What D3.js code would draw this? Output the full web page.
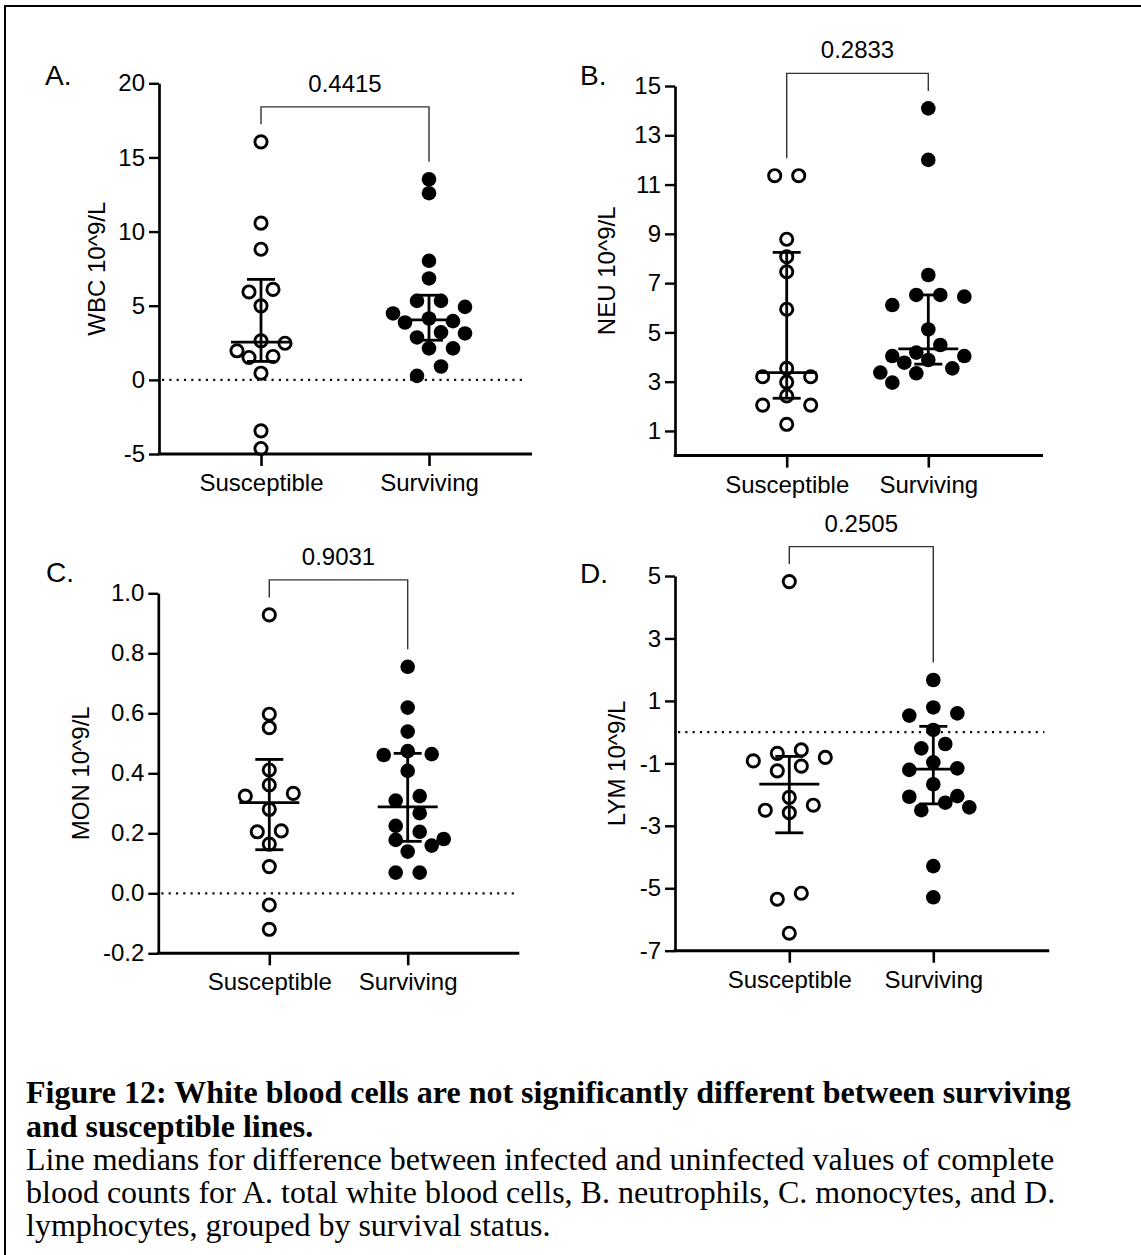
<!DOCTYPE html>
<html>
<head>
<meta charset="utf-8">
<script src="https://cdn.jsdelivr.net/npm/d3@7"></script>
<style>
  html, body { margin: 0; padding: 0; background: #fff; }
  svg { display: block; }
</style>
</head>
<body>
<svg id="fig" width="1141" height="1255"></svg>
<script>
// ---------------- DATA ----------------
const groups = ["Susceptible", "Surviving"];

// A. total white blood cells (WBC 10^9/L)
const wbcSusceptible = [16.05, 10.57, 8.81, 6.1, 5.93, 4.99, 2.63, 2.47, 1.96, 1.58, 1.51, 0.45, -3.44, -4.63];
const wbcSurviving   = [13.53, 12.59, 8.03, 6.84, 5.33, 5.33, 4.92, 4.48, 4.14, 3.96, 3.87, 3.2, 3.13, 2.86, 2.12, 2.12, 0.9, 0.27];

// B. neutrophils (NEU 10^9/L)
const neuSusceptible = [11.36, 11.36, 8.78, 8.07, 7.46, 5.94, 3.54, 3.2, 3.2, 2.98, 2.42, 2.05, 2.05, 1.27];
const neuSurviving   = [14.09, 12.0, 7.33, 6.52, 6.52, 6.45, 6.11, 5.12, 4.49, 4.18, 4.04, 4.04, 3.88, 3.77, 3.54, 3.37, 3.34, 2.96];

// C. monocytes (MON 10^9/L)
const monSusceptible = [0.928, 0.597, 0.552, 0.411, 0.361, 0.333, 0.324, 0.28, 0.208, 0.205, 0.164, 0.089, -0.039, -0.12];
const monSurviving   = [0.755, 0.619, 0.539, 0.474, 0.464, 0.461, 0.408, 0.324, 0.309, 0.267, 0.225, 0.205, 0.181, 0.178, 0.159, 0.139, 0.069, 0.069];

// D. lymphocytes (LYM 10^9/L)
const lymSusceptible = [4.82, -0.57, -0.68, -0.81, -0.92, -1.09, -1.24, -2.09, -2.34, -2.5, -2.58, -5.16, -5.35, -6.44];
const lymSurviving   = [1.67, 0.79, 0.6, 0.53, 0.07, -0.38, -0.52, -0.97, -1.16, -1.21, -1.67, -2.05, -2.07, -2.26, -2.41, -2.5, -4.29, -5.29];

// p values shown above brackets
const pValues = ["0.4415", "0.2833", "0.9031", "0.2505"];

// axis titles, tick values, panel letters
const panelLetters = ["A.", "B.", "C.", "D."];
const axisTitles = ["WBC 10^9/L", "NEU 10^9/L", "MON 10^9/L", "LYM 10^9/L"];
const ticksA = [-5, 0, 5, 10, 15, 20];
const ticksB = [1, 3, 5, 7, 9, 11, 13, 15];
const ticksC = [-0.2, 0.0, 0.2, 0.4, 0.6, 0.8, 1.0];
const ticksD = [-7, -5, -3, -1, 1, 3, 5];
const domainA = [-5, 20], domainB = [0, 15], domainC = [-0.2, 1.0], domainD = [-7, 5];

const captionBold = [
  "Figure 12: White blood cells are not significantly different between surviving",
  "and susceptible lines."
];
const captionText = [
  "Line medians for difference between infected and uninfected values of complete",
  "blood counts for A. total white blood cells, B. neutrophils, C. monocytes, and D.",
  "lymphocytes, grouped by survival status."
];

// ---------------- LAYOUT ----------------
const SANS = "'Liberation Sans', Arial, Helvetica, sans-serif";
const SERIF = "'Liberation Serif', 'Times New Roman', Times, serif";
const fmtInt = d => String(d);
const fmt1 = d => d.toFixed(1);

const panels = [
  { data: [wbcSusceptible, wbcSurviving], domain: domainA, ticks: ticksA, fmt: fmtInt,
    x0: 159, xEnd: 532, yTop: 83.3, yBot: 454, cats: [261, 429], titleOff: 54, letter: [45, 85] },
  { data: [neuSusceptible, neuSurviving], domain: domainB, ticks: ticksB, fmt: fmtInt,
    x0: 675, xEnd: 1043, yTop: 86, yBot: 455.6, cats: [786.7, 928.3], titleOff: 60, letter: [580, 85] },
  { data: [monSusceptible, monSurviving], domain: domainC, ticks: ticksC, fmt: fmt1,
    x0: 158.3, xEnd: 519.3, yTop: 593.3, yBot: 953.3, cats: [269.3, 407.7], titleOff: 69, letter: [46, 582] },
  { data: [lymSusceptible, lymSurviving], domain: domainD, ticks: ticksD, fmt: fmtInt,
    x0: 675, xEnd: 1049.3, yTop: 576, yBot: 950.7, cats: [789.3, 933.3], titleOff: 50, letter: [580, 583] }
];

const SLOT = 24;          // horizontal spacing between swarm columns
const ROW_DY = 13;        // points closer than this (px) in y share a row
const MIN_DIST = 13.5;    // symbol collision distance

// Prism-like quartiles ((n+1) method)
function quantile(asc, p) {
  const n = asc.length, h = (n + 1) * p, lo = Math.floor(h), f = h - lo;
  if (lo < 1) return asc[0];
  if (lo >= n) return asc[n - 1];
  return asc[lo - 1] + f * (asc[lo] - asc[lo - 1]);
}

// simple row-based beeswarm in pixel space, returns offsets in slot units
function swarm(values, y) {
  const pts = values.map((v, i) => ({ v, i, py: y(v) })).sort((a, b) => a.py - b.py);
  const rows = [];
  let cur = null;
  for (const p of pts) {
    if (cur && p.py - cur[0].py < ROW_DY) cur.push(p);
    else { cur = [p]; rows.push(cur); }
  }
  const placed = [];
  const shifts = [0, 0.5, -0.5, 1, -1, 1.5, -1.5, 2, -2];
  for (const row of rows) {
    const n = row.length;
    const base = [];
    if (n % 2 === 1) { base.push(0); for (let k = 1; base.length < n; k++) { base.push(k); if (base.length < n) base.push(-k); } }
    else { for (let k = 0.5; base.length < n; k++) { base.push(k); if (base.length < n) base.push(-k); } }
    let chosen = base;
    for (const s of shifts) {
      const offs = base.map(o => o + s);
      const ok = row.every((p, k) => placed.every(q => {
        const dx = (q.off - offs[k]) * SLOT, dy = q.py - p.py;
        return Math.hypot(dx, dy) >= MIN_DIST;
      }));
      if (ok) { chosen = offs; break; }
    }
    row.forEach((p, k) => { p.off = chosen[k]; placed.push(p); });
  }
  return pts;
}

const svg = d3.select("#fig");

// figure frame (top + left edges)
svg.append("path").attr("d", "M5,1255V6H1141")
  .attr("fill", "none").attr("stroke", "#000").attr("stroke-width", 2);

panels.forEach((P, pi) => {
  const g = svg.append("g");
  const y = d3.scaleLinear().domain(P.domain).range([P.yBot, P.yTop]);
  const x = d3.scalePoint().domain(groups).range(P.cats);
  const jitter = d3.scaleLinear().domain([-1, 1]).range([-SLOT, SLOT]);

  // dotted zero line
  if (P.domain[0] < 0 && P.domain[1] > 0) {
    g.append("line")
      .attr("x1", P.x0 + 3).attr("x2", P.xEnd - 5)
      .attr("y1", y(0)).attr("y2", y(0))
      .attr("stroke", "#111").attr("stroke-width", 2.2)
      .attr("stroke-dasharray", "2.2 5.1");
  }

  // y axis
  const ya = g.append("g").attr("transform", `translate(${P.x0},0)`)
    .call(d3.axisLeft(y).tickValues(P.ticks).tickFormat(P.fmt)
      .tickSize(10).tickPadding(4).tickSizeOuter(0));
  ya.select(".domain").attr("stroke", "#000").attr("stroke-width", 2.7);
  ya.selectAll(".tick line").attr("stroke", "#000").attr("stroke-width", 2.4);
  ya.selectAll(".tick text").attr("font-size", 24).attr("font-family", SANS).attr("fill", "#000");

  // x axis
  const xa = g.append("g").attr("transform", `translate(0,${P.yBot})`)
    .call(d3.axisBottom(x).tickSize(12).tickPadding(8).tickSizeOuter(0));
  xa.select(".domain").remove();
  xa.selectAll(".tick line").attr("stroke", "#000").attr("stroke-width", 2.6);
  xa.selectAll(".tick text").attr("font-size", 24).attr("font-family", SANS).attr("fill", "#000");
  g.append("line")
    .attr("x1", P.x0 - 1.35).attr("x2", P.xEnd)
    .attr("y1", y(P.domain[0])).attr("y2", y(P.domain[0]))
    .attr("stroke", "#000").attr("stroke-width", 3);

  // axis title
  g.append("text")
    .attr("transform", `translate(${P.x0 - P.titleOff},${(P.yTop + P.yBot) / 2}) rotate(-90)`)
    .attr("text-anchor", "middle").attr("font-size", 24).attr("font-family", SANS)
    .text(axisTitles[pi]);

  // panel letter
  g.append("text").attr("x", P.letter[0]).attr("y", P.letter[1])
    .attr("font-size", 28).attr("font-family", SANS).text(panelLetters[pi]);

  // points
  P.data.forEach((vals, gi) => {
    const pts = swarm(vals, y);
    const cx0 = x(groups[gi]);
    const open = gi === 0;
    g.append("g").selectAll("circle").data(pts).join("circle")
      .attr("cx", d => cx0 + jitter(d.off))
      .attr("cy", d => y(d.v))
      .attr("r", open ? 6.1 : 7.3)
      .attr("fill", open ? "none" : "#000")
      .attr("stroke", open ? "#000" : "none")
      .attr("stroke-width", 2.9);
  });

  // median + interquartile range
  P.data.forEach((vals, gi) => {
    const asc = vals.slice().sort((a, b) => a - b);
    const med = quantile(asc, 0.5), q1 = quantile(asc, 0.25), q3 = quantile(asc, 0.75);
    const cx = x(groups[gi]);
    const lg = g.append("g").attr("stroke", "#000").attr("stroke-width", 2.8);
    lg.append("line").attr("x1", cx).attr("x2", cx).attr("y1", y(q1)).attr("y2", y(q3));
    lg.append("line").attr("x1", cx - 30).attr("x2", cx + 30).attr("y1", y(med)).attr("y2", y(med));
    [q1, q3].forEach(q => lg.append("line").attr("x1", cx - 14).attr("x2", cx + 14).attr("y1", y(q)).attr("y2", y(q)));
  });

  // significance bracket
  const maxes = P.data.map(v => d3.max(v));
  const topY = y(d3.max(maxes)) - 35;
  const c1 = x(groups[0]), c2 = x(groups[1]);
  g.append("path")
    .attr("d", `M${c1},${y(maxes[0]) - 17.5}V${topY}H${c2}V${y(maxes[1]) - 17.5}`)
    .attr("fill", "none").attr("stroke", "#333").attr("stroke-width", 1.4);
  g.append("text").attr("x", (c1 + c2) / 2).attr("y", topY - 15)
    .attr("text-anchor", "middle").attr("font-size", 24).attr("font-family", SANS)
    .text(pValues[pi]);
});

// caption
const cap = svg.append("g").attr("transform", "translate(26,0)");
const capLines = captionBold.map(t => ({ t, bold: true })).concat(captionText.map(t => ({ t, bold: false })));
const capBaselines = [1103, 1137, 1170, 1203, 1236];
cap.selectAll("text").data(capLines).join("text")
  .attr("x", 0).attr("y", (d, i) => capBaselines[i])
  .attr("font-family", SERIF).attr("font-size", 32)
  .attr("font-weight", d => d.bold ? "bold" : "normal")
  .text(d => d.t);
</script>
</body>
</html>
